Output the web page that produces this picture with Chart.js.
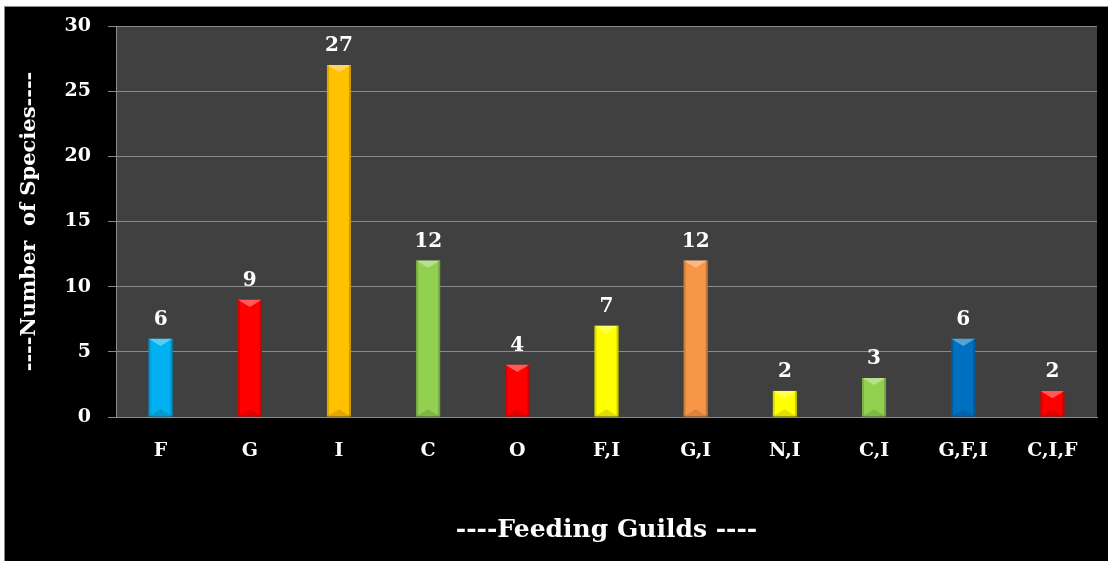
<!DOCTYPE html>
<html>
<head>
<meta charset="utf-8">
<script src="https://cdn.jsdelivr.net/npm/chart.js@4/dist/chart.umd.min.js"></script>
<style>
  html, body { margin: 0; padding: 0; background: #fff; }
  #frame {
    position: absolute; left: 4px; top: 6px; width: 1103px; height: 554px;
    background: #000; border-top: 1px solid #8c8c8c; border-left: 1px solid #8c8c8c;
  }
  #chart { display: block; }
</style>
</head>
<body>
<div id="frame"><canvas id="chart" width="1103" height="554"></canvas></div>
<script>
// feeding guilds and number of species in each
var guilds = ['F', 'G', 'I', 'C', 'O', 'F,I', 'G,I', 'N,I', 'C,I', 'G,F,I', 'C,I,F'];
var speciesCounts = [6, 9, 27, 12, 4, 7, 12, 2, 3, 6, 2];
var barColors = ['#00B0F0', '#FF0000', '#FFC000', '#92D050', '#FF0000', '#FFFF00',
                 '#F79646', '#FFFF00', '#92D050', '#0070C0', '#FF0000'];
var yMin = 0, yMax = 30, yStep = 5;

var serif = 'DejaVu Serif';

// dark grey plot area on the black canvas
var plotBackground = {
    id: 'plotBackground',
    beforeDraw: function(chart) {
        var a = chart.chartArea, ctx = chart.ctx;
        ctx.save();
        ctx.fillStyle = '#404040';
        ctx.fillRect(a.left, a.top, a.right - a.left, a.bottom - a.top);
        ctx.restore();
    }
};

// bevel look + value labels on top of bars
var barDecor = {
    id: 'barDecor',
    afterDatasetsDraw: function(chart) {
        var ctx = chart.ctx;
        var meta = chart.getDatasetMeta(0);
        ctx.save();
        meta.data.forEach(function(bar, i) {
            var p = bar.getProps(['x', 'y', 'base', 'width'], true);
            var l = p.x - p.width / 2, r = p.x + p.width / 2;
            var tri = p.width * 0.3;
            // top light facet
            ctx.fillStyle = 'rgba(255,255,255,0.35)';
            ctx.beginPath();
            ctx.moveTo(l, p.y); ctx.lineTo(r, p.y); ctx.lineTo(p.x, p.y + tri);
            ctx.closePath(); ctx.fill();
            // side edges
            ctx.fillStyle = 'rgba(0,0,0,0.15)';
            ctx.fillRect(l, p.y, 2, p.base - p.y);
            ctx.fillStyle = 'rgba(0,0,0,0.2)';
            ctx.fillRect(r - 2, p.y, 2, p.base - p.y);
            // bottom dark facet
            ctx.fillStyle = 'rgba(0,0,0,0.12)';
            ctx.beginPath();
            ctx.moveTo(l, p.base); ctx.lineTo(r, p.base); ctx.lineTo(p.x, p.base - tri);
            ctx.closePath(); ctx.fill();
            // value
            ctx.fillStyle = '#ffffff';
            ctx.font = 'bold 20px "' + serif + '"';
            ctx.textAlign = 'center';
            ctx.textBaseline = 'alphabetic';
            ctx.fillText(String(speciesCounts[i]), p.x, p.y - 14);
        });
        ctx.restore();
    }
};

var ctx = document.getElementById('chart').getContext('2d');
var myChart = new Chart(ctx, {
    type: 'bar',
    data: {
        labels: guilds,
        datasets: [{
            data: speciesCounts,
            backgroundColor: barColors,
            borderWidth: 0,
            barPercentage: 0.27,
            categoryPercentage: 1
        }]
    },
    options: {
        responsive: false,
        animation: false,
        layout: { padding: { top: 19, right: 11, left: 0, bottom: 0 } },
        plugins: {
            legend: { display: false },
            tooltip: { enabled: false }
        },
        scales: {
            x: {
                grid: { display: false, drawTicks: false },
                border: { display: true, color: '#8a8a8a', width: 1 },
                ticks: {
                    color: '#ffffff',
                    padding: 23,
                    font: { family: serif, weight: 'bold', size: 19 }
                },
                title: {
                    display: true,
                    text: '----Feeding Guilds ----',
                    color: '#ffffff',
                    padding: { top: 0, bottom: 16 },
                    font: { family: serif, weight: 'bold', size: 25 }
                },
                afterFit: function(scale) { scale.height = 144; }
            },
            y: {
                min: yMin,
                max: yMax,
                ticks: {
                    stepSize: yStep,
                    color: '#ffffff',
                    padding: 17,
                    font: { family: serif, weight: 'bold', size: 19 }
                },
                grid: { color: '#8a8a8a', lineWidth: 1, tickLength: 8 },
                border: { display: true, color: '#8a8a8a', width: 1 },
                title: {
                    display: true,
                    text: '----Number  of Species----',
                    color: '#ffffff',
                    padding: { top: 12, bottom: 0 },
                    font: { family: serif, weight: 'bold', size: 21 }
                },
                afterFit: function(scale) {
                    scale.width = 111;
                    scale.paddingTop = 0;
                    scale.paddingBottom = 0;
                }
            }
        }
    },
    plugins: [plotBackground, barDecor]
});
</script>
</body>
</html>
